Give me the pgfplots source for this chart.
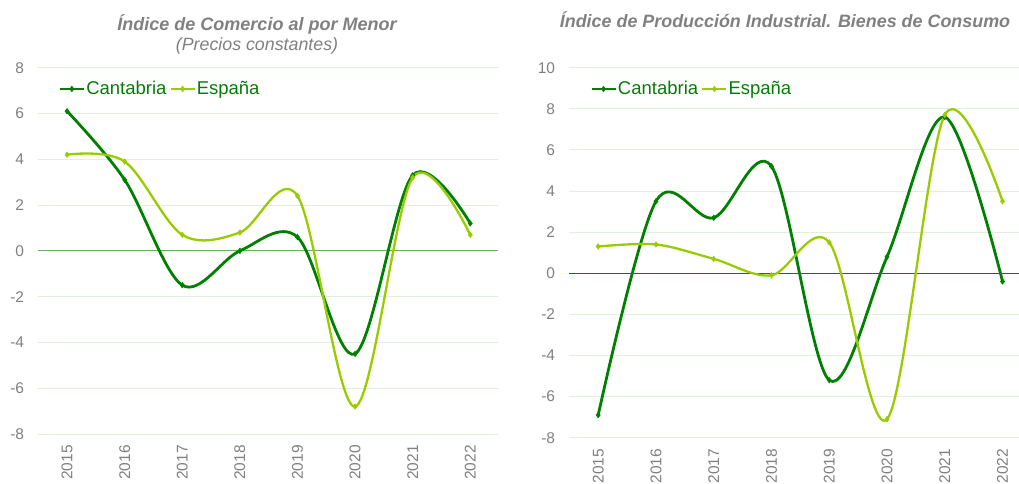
\documentclass[border=0pt]{standalone}
\usepackage{pgfplots}
\pgfplotsset{compat=1.18}
\usepackage{fontspec}
\setmainfont{Liberation Sans}

\definecolor{cant}{HTML}{008000}
\definecolor{espa}{HTML}{99CC00}
\definecolor{gridc}{HTML}{E2EFDA}
\definecolor{txtgray}{HTML}{808080}
\definecolor{legtxt}{HTML}{087A08}
\definecolor{zerol}{HTML}{6AAF5F}

\pgfplotstableread{
x cant esp
0  6.1  4.2
1  3.1  3.9
2 -1.5  0.7
3  0.0  0.8
4  0.6  2.4
5 -4.5 -6.8
6  3.3  3.2
7  1.2  0.7
}\comercio

\pgfplotstableread{
x cant esp
0 -6.9  1.3
1  3.5  1.4
2  2.7  0.7
3  5.2 -0.1
4 -5.2  1.5
5  0.8 -7.1
6  7.6  7.7
7 -0.4  3.5
}\industria

\pgfplotsset{
  panel/.style={
    scale only axis,
    anchor=south west,
    axis line style={draw=none},
    major tick length=0pt,
    ymajorgrids,
    grid style={gridc, line width=1pt},
    xtick={0,...,7},
    xticklabels={2015,2016,2017,2018,2019,2020,2021,2022},
    x tick label style={rotate=90, anchor=east, font=\fontsize{15.5}{16}\selectfont, text=txtgray, inner sep=0pt},
    y tick label style={font=\fontsize{15.5}{16}\selectfont, text=txtgray, inner sep=0pt},
    xticklabel shift=11pt,
    yticklabel shift=14pt,
    /pgf/number format/assume math mode=true,
    xmin=-0.5,
    clip=false,
    legend columns=2,
    legend cell align=left,
    legend style={draw=none, fill=none, anchor=west, inner sep=0pt,
      font=\fontsize{18.5}{19}\selectfont, text=legtxt,
      nodes={inner xsep=1pt, inner ysep=2pt},
      /tikz/every even column/.append style={column sep=2pt}},
    legend image code/.code={
      \draw[mark repeat=2, mark phase=2, #1] plot coordinates {(0pt,0pt) (12pt,0pt) (24pt,0pt)};
    },
  },
  cantline/.style={cant, line width=2.8pt, smooth, tension=0.55, mark=diamond*, mark size=2.8pt, mark options={solid, line width=0.5pt}},
  espline/.style={espa, line width=2.3pt, smooth, tension=0.55, mark=diamond*, mark size=2.8pt, mark options={solid, line width=0.5pt}},
}

\begin{document}
\begin{tikzpicture}[x=1pt, y=1pt]
\useasboundingbox (0,0) rectangle (1019,483);

% left panel
\begin{axis}[panel,
  at={(38.3pt,49pt)}, width=459.4pt, height=366.3pt,
  xmax=7.476, ymin=-8, ymax=8, ytick={-8,-6,...,8},
  legend style={at={(axis description cs:0.0435,0.942)}},
]
\draw[zerol, line width=1.3pt] (axis cs:-0.5,0) -- (axis cs:7.476,0);
\addplot[cantline] table[x=x, y=cant] {\comercio};
\addlegendentry{Cantabria}
\addplot[espline] table[x=x, y=esp] {\comercio};
\addlegendentry{España}
\end{axis}

% right panel
\begin{axis}[panel,
  at={(569.3pt,45.3pt)}, width=449.7pt, height=370pt,
  xmax=7.285, ymin=-8, ymax=10, ytick={-8,-6,...,10},
  legend style={at={(axis description cs:0.046,0.9424)}},
]
\draw[cant, line width=1pt] (axis cs:-0.5,0) -- (axis cs:7.285,0);
\addplot[cantline] table[x=x, y=cant] {\industria};
\addlegendentry{Cantabria}
\addplot[espline] table[x=x, y=esp] {\industria};
\addlegendentry{España}
\end{axis}

% titles
\node[text=txtgray, font=\fontsize{18}{19}\selectfont\bfseries\itshape, anchor=base] at (257,452) {Índice de Comercio al por Menor};
\node[text=txtgray, font=\fontsize{17.8}{18}\selectfont\itshape, anchor=base] at (257,432) {(Precios constantes)};
\node[text=txtgray, font=\fontsize{17.9}{19}\selectfont\bfseries\itshape, anchor=base] at (785,455) {Índice de Producción Industrial. Bienes de Consumo};
\end{tikzpicture}
\end{document}
